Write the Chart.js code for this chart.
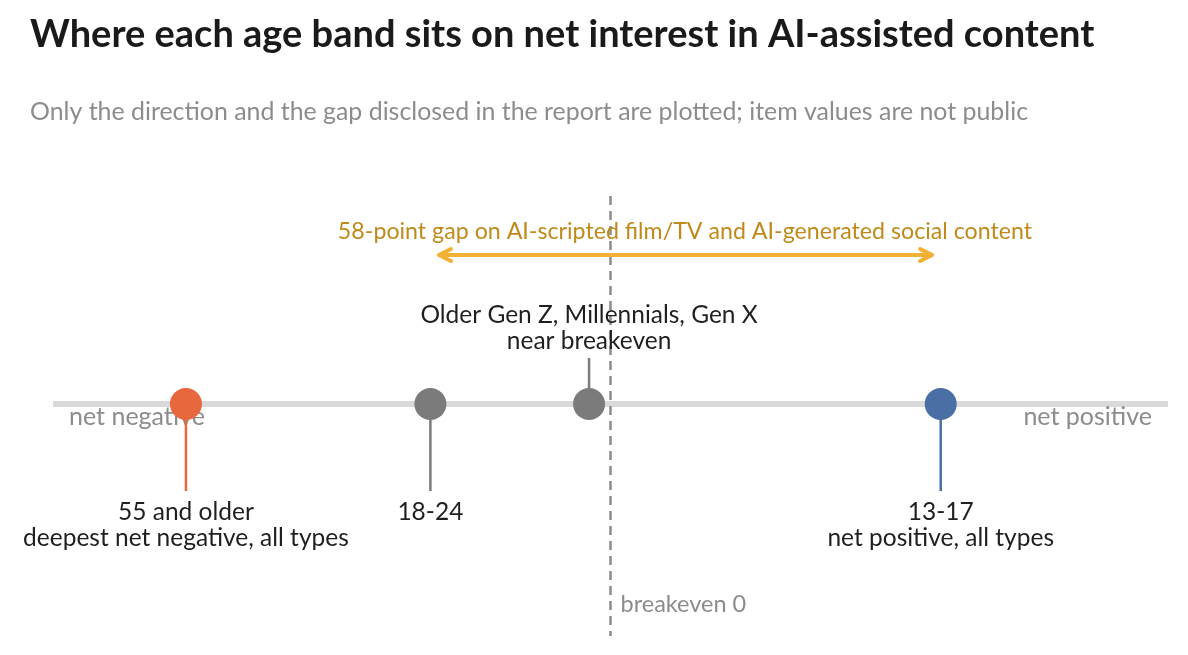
<!DOCTYPE html>
<html>
<head>
<meta charset="utf-8">
<title>Net interest in AI-assisted content by age band</title>
<script src="https://cdn.jsdelivr.net/npm/chart.js@4.4.1/dist/chart.umd.min.js"></script>
<style>
  html, body { margin: 0; padding: 0; background: #fff; }
  #wrap { width: 1188px; height: 655px; }
</style>
</head>
<body>
<div id="wrap"><canvas id="ageChart" width="1188" height="655"></canvas></div>
<script>
// ---- data ----
const bands = ['55 and older', '18-24', 'Older Gen Z, Millennials, Gen X', '13-17'];
const notes = ['deepest net negative, all types', '', 'near breakeven', 'net positive, all types'];
const netValues = [-49.5, -21, -2.5, 38.5];      // position on the net-interest line
const stemUp = [false, false, true, false];       // label above or below the dot
const dotColors = ['#e8673c', '#7b7b7b', '#7b7b7b', '#4a6fa5'];
const gapRange = [-20, 37.5];                     // arrow span
const gapLabel = '58-point gap on AI-scripted film/TV and AI-generated social content';
const axisMin = -65, axisMax = 65;

const FONT = 'Lato, "Source Sans Pro", "Noto Sans", sans-serif';

/** Everything that isn't a dot: track, breakeven line, stems, labels, arrow, titles */
const overlay = {
  id: 'overlay',
  beforeDatasetsDraw(chart) {
    const { ctx, chartArea, scales } = chart;
    const x = scales.x, y = scales.y;
    const y0 = y.getPixelForValue(0);
    ctx.save();

    // track
    ctx.strokeStyle = '#d9d9d9';
    ctx.lineWidth = 6;
    ctx.beginPath();
    ctx.moveTo(chartArea.left, y0);
    ctx.lineTo(chartArea.right, y0);
    ctx.stroke();

    // end labels
    ctx.font = '25px ' + FONT;
    ctx.fillStyle = '#8c8c8c';
    ctx.textBaseline = 'middle';
    ctx.textAlign = 'left';
    ctx.fillText('net negative', chartArea.left + 16, y0 + 13);
    ctx.textAlign = 'right';
    ctx.fillText('net positive', chartArea.right - 16, y0 + 13);

    // breakeven
    const xb = x.getPixelForValue(0);
    ctx.strokeStyle = '#8c8c8c';
    ctx.lineWidth = 2.5;
    ctx.setLineDash([9, 6]);
    ctx.beginPath();
    ctx.moveTo(xb, 196);
    ctx.lineTo(xb, 636);
    ctx.stroke();
    ctx.setLineDash([]);
    ctx.font = '23.5px ' + FONT;
    ctx.textAlign = 'left';
    ctx.fillText('breakeven 0', xb + 10, 604);

    // stems
    netValues.forEach((v, i) => {
      const px = x.getPixelForValue(v);
      ctx.strokeStyle = dotColors[i];
      ctx.lineWidth = 2.5;
      ctx.beginPath();
      ctx.moveTo(px, y0);
      ctx.lineTo(px, stemUp[i] ? y0 - 46 : y0 + 87);
      ctx.stroke();
    });

    // gap arrow
    const a1 = x.getPixelForValue(gapRange[0]);
    const a2 = x.getPixelForValue(gapRange[1]);
    const ay = 255;
    ctx.strokeStyle = '#f2b134';
    ctx.lineWidth = 4;
    ctx.lineCap = 'round';
    ctx.lineJoin = 'round';
    ctx.beginPath();
    ctx.moveTo(a1, ay); ctx.lineTo(a2, ay);
    ctx.moveTo(a1 + 12, ay - 6); ctx.lineTo(a1, ay); ctx.lineTo(a1 + 12, ay + 6);
    ctx.moveTo(a2 - 12, ay - 6); ctx.lineTo(a2, ay); ctx.lineTo(a2 - 12, ay + 6);
    ctx.stroke();
    ctx.fillStyle = '#c08a1a';
    ctx.font = '23.2px ' + FONT;
    ctx.textAlign = 'center';
    ctx.fillText(gapLabel, 685, 232);

    ctx.restore();
  },
  afterDatasetsDraw(chart) {
    const { ctx, scales } = chart;
    const x = scales.x, y = scales.y;
    const y0 = y.getPixelForValue(0);
    ctx.save();
    ctx.font = '24.5px ' + FONT;
    ctx.fillStyle = '#1f1f1f';
    ctx.textAlign = 'center';
    ctx.textBaseline = 'middle';
    netValues.forEach((v, i) => {
      const px = x.getPixelForValue(v);
      if (stemUp[i]) {
        ctx.fillText(bands[i], px, y0 - 89);
        if (notes[i]) ctx.fillText(notes[i], px, y0 - 63);
      } else {
        ctx.fillText(bands[i], px, y0 + 108);
        if (notes[i]) ctx.fillText(notes[i], px, y0 + 134);
      }
    });

    // titles
    ctx.textAlign = 'left';
    ctx.fillStyle = '#1a1a1a';
    ctx.font = 'bold 38px ' + FONT;
    ctx.fillText('Where each age band sits on net interest in AI-assisted content', 30, 35);
    ctx.fillStyle = '#8c8c8c';
    ctx.font = '24.9px ' + FONT;
    ctx.fillText('Only the direction and the gap disclosed in the report are plotted; item values are not public', 30, 112);
    ctx.restore();
  }
};

new Chart(document.getElementById('ageChart'), {
  type: 'scatter',
  data: {
    datasets: [{
      data: netValues.map(v => ({ x: v, y: 0 })),
      pointRadius: 16,
      pointHoverRadius: 16,
      pointBackgroundColor: dotColors,
      pointBorderWidth: 0
    }]
  },
  options: {
    responsive: false,
    animation: false,
    devicePixelRatio: 1,
    layout: { autoPadding: false, padding: { left: 53, right: 20, top: 153, bottom: 0 } },
    plugins: { legend: { display: false }, tooltip: { enabled: false } },
    scales: {
      x: { display: false, min: axisMin, max: axisMax },
      y: { display: false, min: -1, max: 1 }
    }
  },
  plugins: [overlay]
});
</script>
</body>
</html>
